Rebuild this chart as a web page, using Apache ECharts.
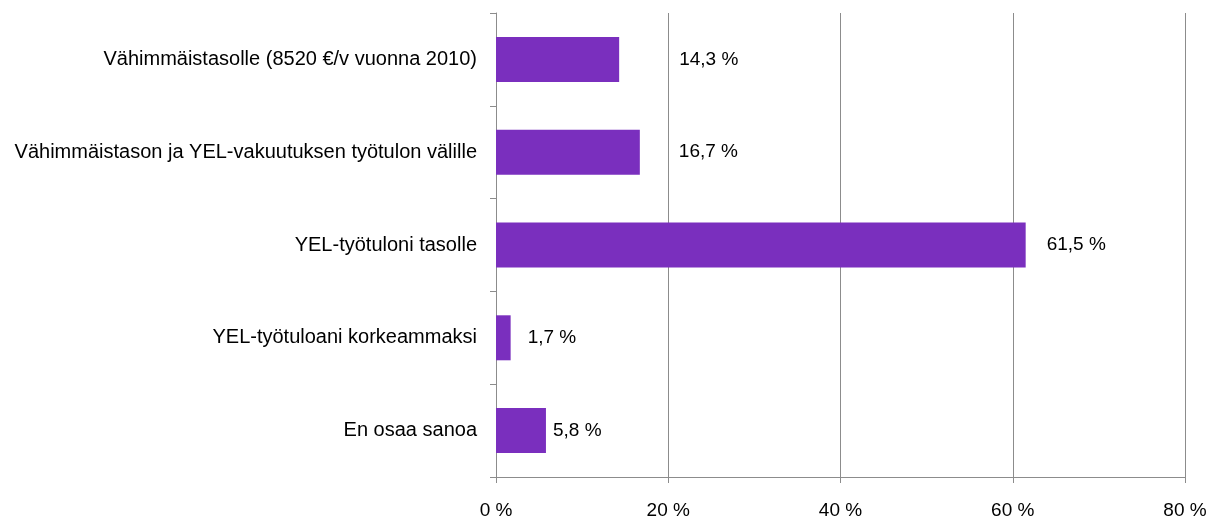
<!doctype html>
<html>
<head>
<meta charset="utf-8">
<script src="https://cdn.jsdelivr.net/npm/echarts@6/dist/echarts.min.js"></script>
<style>
* { margin: 0; padding: 0; }
body { background: #fff; }
#chart { width: 1220px; height: 518px; }
</style>
</head>
<body>
<div id="chart"></div>
<script>
// vastausvaihtoehdot ylhäältä alas
var categories = [
	'Vähimmäistasolle (8520 €/v vuonna 2010)',
	'Vähimmäistason ja YEL-vakuutuksen työtulon välille',
	'YEL-työtuloni tasolle',
	'YEL-työtuloani korkeammaksi',
	'En osaa sanoa'
];
var values = [14.3, 16.7, 61.5, 1.7, 5.8];
var xTicks = [0, 20, 40, 60, 80];

// arvotekstien etäisyys palkin päästä (px), kuten alkuperäisessä
var labelGap = [60, 39, 21, 17, 7];

var font = 'Liberation Sans, Arial, sans-serif';
var gray = '#8c8c8c';

var chart = echarts.init(document.getElementById('chart'));

chart.setOption({
	animation: false,
	grid: { left: 496, right: 35, top: 13, bottom: 41, outerBoundsMode: 'none', containLabel: false },
	xAxis: {
		type: 'value',
		min: xTicks[0],
		max: xTicks[xTicks.length - 1],
		interval: 20,
		axisLine: { show: true, lineStyle: { color: gray } },
		axisTick: { show: true, length: 6, lineStyle: { color: gray } },
		splitLine: { show: true, lineStyle: { color: gray, width: 1 } },
		axisLabel: {
			margin: 24,
			color: '#000',
			fontSize: 19,
			fontFamily: font,
			formatter: function (v) { return v + ' %'; }
		}
	},
	yAxis: {
		type: 'category',
		inverse: true,
		data: categories,
		axisLine: { show: true, lineStyle: { color: gray } },
		axisTick: { show: true, length: 6, lineStyle: { color: gray } },
		axisLabel: {
			margin: 19,
			color: '#000',
			fontSize: 20,
			fontFamily: font
		}
	},
	series: [{
		type: 'bar',
		barWidth: 45,
		itemStyle: { color: '#7a2fbe' },
		data: values.map(function (v, i) {
			return {
				value: v,
				label: {
					show: true,
					position: 'right',
					distance: labelGap[i],
					color: '#000',
					fontSize: 19,
					fontFamily: font,
					formatter: function (p) { return String(p.value).replace('.', ',') + ' %'; }
				}
			};
		})
	}]
});
</script>
</body>
</html>
